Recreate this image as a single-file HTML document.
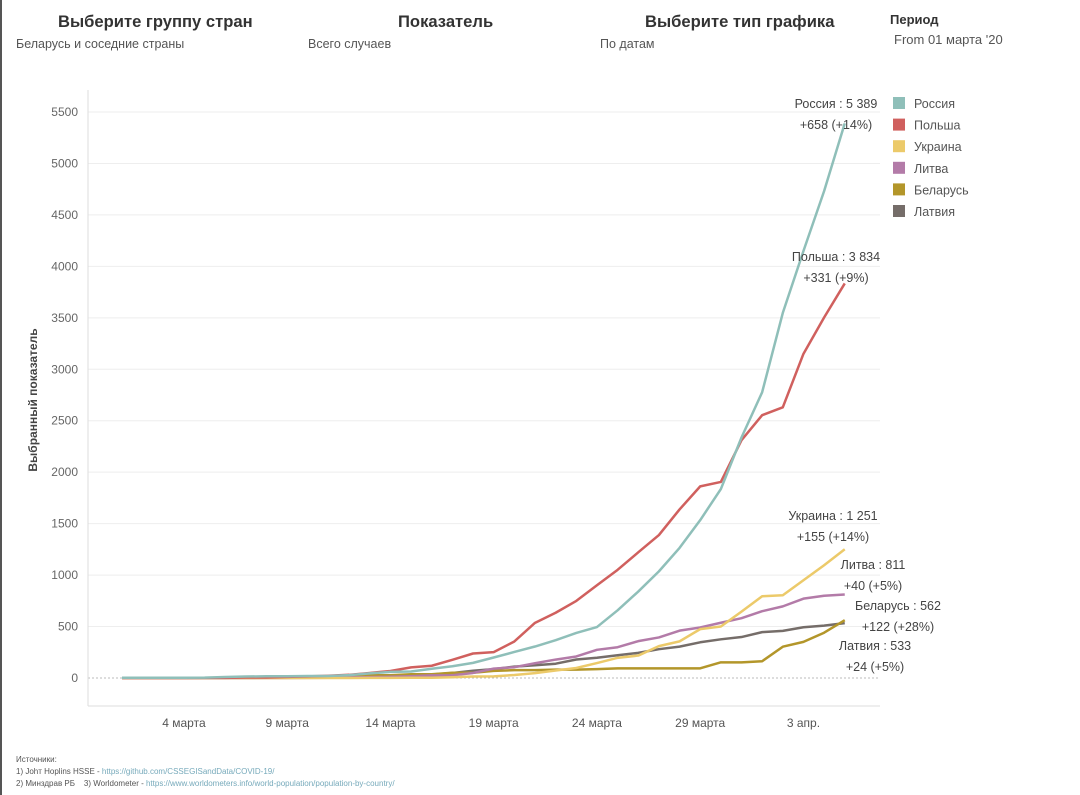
<!DOCTYPE html>
<html><head><meta charset="utf-8">
<style>
body{margin:0;width:1080px;height:795px;background:#fff;font-family:"Liberation Sans","Noto Sans CJK SC",sans-serif;overflow:hidden;position:relative;color:#333}
.h{position:absolute;font-weight:bold;font-size:16.6px;color:#333}
.s{position:absolute;font-size:12.5px;color:#555}
#lb{position:absolute;left:0;top:0;width:2px;height:795px;background:#555}
</style></head><body>
<div id="lb"></div>
<div class="h" style="left:58px;top:12px">Выберите группу стран</div>
<div class="s" style="left:16px;top:37px">Беларусь и соседние страны</div>
<div class="h" style="left:398px;top:12px">Показатель</div>
<div class="s" style="left:308px;top:37px">Всего случаев</div>
<div class="h" style="left:645px;top:12px">Выберите тип графика</div>
<div class="s" style="left:600px;top:37px">По датам</div>
<div class="h" style="left:890px;top:12px;font-size:13px">Период</div>
<div class="s" style="left:894px;top:32px;font-size:13px">From 01 марта '20</div>
<svg id="c" width="1080" height="795" style="position:absolute;left:0;top:0"></svg>
<div style="position:absolute;left:16px;top:754px;font-size:8px;color:#555;line-height:12px">Источники:<br>1) Johт Hoplins HSSE - <span style="color:#7ab">https://github.com/CSSEGISandData/COVID-19/</span><br>2) Минздрав РБ &nbsp;&nbsp;&nbsp;3) Worldometer - <span style="color:#7ab">https://www.worldometers.info/world-population/population-by-country/</span></div>
<script>
const countries=["Россия","Польша","Украина","Литва","Беларусь","Латвия"];
const colors=["#8fbfb9","#d0605e","#ecca6a","#b37ba8","#b3962a","#756d69"];
const russia=[2,3,3,3,4,10,14,17,17,20,20,28,45,59,63,90,114,147,199,253,306,367,438,495,658,840,1036,1264,1534,1836,2337,2777,3548,4149,4731,5389];
const poland=[0,0,0,0,1,1,5,5,11,16,22,31,49,68,103,119,177,238,251,355,536,634,749,901,1051,1221,1389,1638,1862,1905,2311,2554,2630,3150,3503,3834];
const ukraine=[0,0,0,0,0,0,0,0,0,0,0,0,1,1,3,3,7,14,16,29,47,73,97,145,196,218,310,356,475,500,645,794,804,950,1096,1251];
const lithuania=[0,0,0,0,0,0,1,1,1,1,3,6,8,12,17,25,27,49,91,105,143,179,209,274,299,358,394,460,491,537,581,649,696,771,799,811];
const belarus=[0,0,0,1,1,1,6,6,6,6,9,12,27,27,36,36,51,51,69,76,76,81,81,86,94,94,94,94,94,152,152,163,304,351,440,562];
const latvia=[0,0,0,0,0,0,0,1,1,2,8,10,16,26,30,34,49,71,86,111,124,139,180,197,221,244,280,305,347,376,398,446,458,493,509,533];
const series=[russia,poland,ukraine,lithuania,belarus,latvia];
const labels1=["Россия : 5 389","Польша : 3 834","Украина : 1 251","Литва : 811","Беларусь : 562","Латвия : 533"];
const labels2=["+658 (+14%)","+331 (+9%)","+155 (+14%)","+40 (+5%)","+122 (+28%)","+24 (+5%)"];
const yTicks=[0,500,1000,1500,2000,2500,3000,3500,4000,4500,5000,5500];
const xTickIdx=[3,8,13,18,23,28,33];
const xTickLabels=["4 марта","9 марта","14 марта","19 марта","24 марта","29 марта","3 апр."];
const labelY=[108,261,520,569,610,650];
const labelX=[836,836,833,873,898,875];

const X=i=>122+20.65*i, Y=v=>678-v*566/5500;
const svg=document.getElementById('c');const NS='http://www.w3.org/2000/svg';
function mk(t,a,txt){const e=document.createElementNS(NS,t);for(const k in a)e.setAttribute(k,a[k]);if(txt!=null)e.textContent=txt;svg.appendChild(e);return e;}
yTicks.forEach(v=>{
 const g=mk('line',{x1:88,x2:880,y1:Y(v),y2:Y(v),stroke:v?'#eee':'#bbb','stroke-width':1,'stroke-dasharray':v?'':'2,2'});
 
 
 const t=mk('text',{x:78,y:Y(v)+4,'text-anchor':'end','font-size':12,fill:'#666'},v);
 
 
});
const ax=mk('line',{x1:88,x2:88,y1:90,y2:706,stroke:'#ddd'});


const bx=mk('line',{x1:88,x2:880,y1:706,y2:706,stroke:'#ddd'});


xTickIdx.forEach((d,k)=>{
 const t=mk('text',{x:X(d),y:727,'text-anchor':'middle','font-size':12,fill:'#555'},xTickLabels[k]);
 
 
});
const yt=mk('text',{x:0,y:0,transform:'translate(37,400) rotate(-90)','text-anchor':'middle','font-size':12,'font-weight':'bold',fill:'#444'},'Выбранный показатель');


for(let s=series.length-1;s>=0;s--){
 const p=mk('polyline',{points:series[s].map((v,i)=>X(i)+','+Y(v)).join(' '),fill:'none',stroke:colors[s],'stroke-width':2.5,'stroke-linejoin':'round'});
 
 
}
countries.forEach((c,k)=>{
 const r=mk('rect',{x:893,y:97+k*21.6,width:12,height:12,fill:colors[k]});
 
 
 const t=mk('text',{x:914,y:108+k*21.6,'font-size':12.5,fill:'#555'},c);
 
 
 const a=mk('text',{x:labelX[k],y:labelY[k],'text-anchor':'middle','font-size':12.5,fill:'#444'},labels1[k]);
 
 
 const b=mk('text',{x:labelX[k],y:labelY[k]+21,'text-anchor':'middle','font-size':12.5,fill:'#444'},labels2[k]);
 
 
});
</script>
</body></html>
